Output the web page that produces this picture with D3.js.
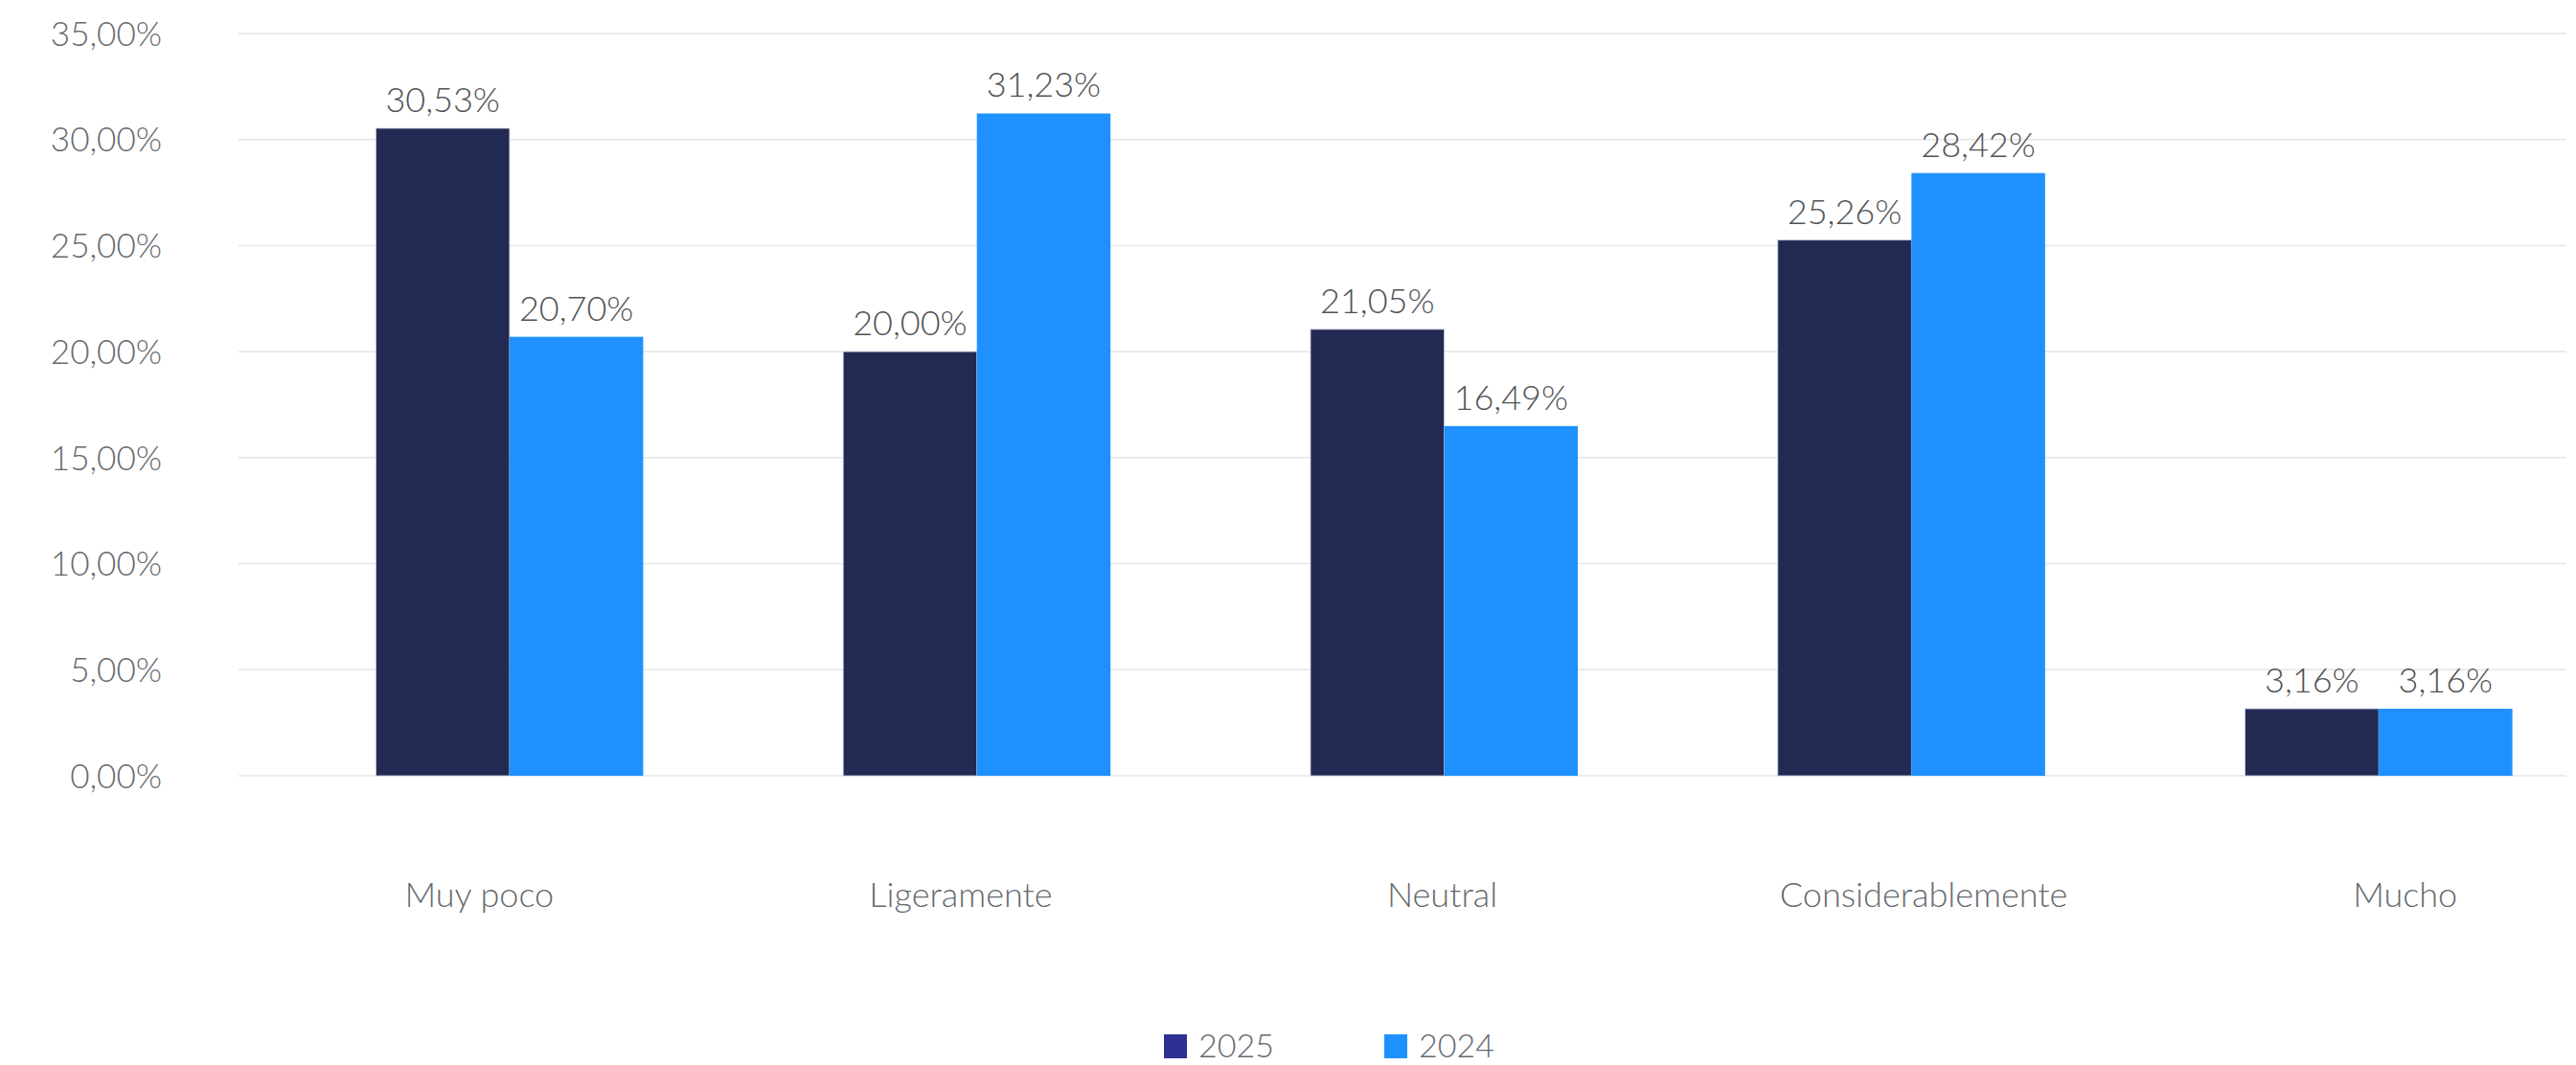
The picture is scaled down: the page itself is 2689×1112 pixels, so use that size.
<!DOCTYPE html>
<html>
<head>
<meta charset="utf-8">
<script src="https://cdn.jsdelivr.net/npm/d3@7"></script>
<style>
  html, body { margin: 0; padding: 0; background: #ffffff; }
  svg { display: block; }
  text { font-family: Lato, "Open Sans", sans-serif; font-weight: 300; }
</style>
</head>
<body>
<svg id="chart" width="2689" height="1112"></svg>
<script>
// Survey answers and share of respondents per year (percent)
const categories = ["Muy poco", "Ligeramente", "Neutral", "Considerablemente", "Mucho"];
const seriesNames = ["2025", "2024"];
const values2025 = [30.53, 20.00, 21.05, 25.26, 3.16];
const values2024 = [20.70, 31.23, 16.49, 28.42, 3.16];
const yTicks = [0, 5, 10, 15, 20, 25, 30, 35];

const barColors = { "2025": "#222a54", "2024": "#1f91ff" };
const legendColors = { "2025": "#2e3192", "2024": "#1f91ff" };

const svg = d3.select("#chart");
const plotLeft = 249, plotRight = 2679, plotTop = 35, plotBottom = 810;

const fmt = v => d3.format(".2f")(v).replace(".", ",") + "%";

const y = d3.scaleLinear().domain([0, 35]).range([plotBottom, plotTop]);

// bar groups
const x0 = d3.scaleBand().domain(categories).range([288, 2727])
  .paddingInner(0.428).paddingOuter(0.214);
const x1 = d3.scaleBand().domain(seriesNames).range([0, x0.bandwidth()]).padding(0);

// category label positions
const xLabel = d3.scaleBand().domain(categories).range([249, 2762]);

// gridlines
svg.append("g").selectAll("line").data(yTicks).join("line")
  .attr("x1", plotLeft).attr("x2", plotRight)
  .attr("y1", d => y(d)).attr("y2", d => y(d))
  .attr("stroke", "#e6e6e6").attr("stroke-width", 1.5);

// y axis labels
const yAxis = d3.axisLeft(y).tickValues(yTicks).tickSize(0).tickPadding(0)
  .tickFormat(fmt);
const gy = svg.append("g").attr("transform", "translate(169,0)").call(yAxis);
gy.select(".domain").remove();
gy.selectAll("text")
  .attr("font-family", "Lato, sans-serif")
  .attr("font-size", 35).attr("fill", "#666a70").attr("dy", "0.35em");

// x axis labels
const xAxis = d3.axisBottom(xLabel).tickSize(0).tickPadding(0);
const gx = svg.append("g").attr("transform", "translate(0,934)").call(xAxis);
gx.select(".domain").remove();
gx.selectAll("text")
  .attr("font-family", "Lato, sans-serif")
  .attr("font-size", 36).attr("fill", "#666a70").attr("dy", "0.35em");

// data rows
const rows = categories.map((c, i) => ({
  cat: c,
  vals: [{ key: "2025", v: values2025[i] }, { key: "2024", v: values2024[i] }]
}));

const groups = svg.append("g").selectAll("g").data(rows).join("g")
  .attr("transform", d => `translate(${x0(d.cat)},0)`);

groups.selectAll("rect").data(d => d.vals).join("rect")
  .attr("x", d => x1(d.key))
  .attr("y", d => y(d.v))
  .attr("width", x1.bandwidth())
  .attr("height", d => y(0) - y(d.v))
  .attr("fill", d => barColors[d.key])
  .attr("stroke", d => d.key === "2025" ? "#c9cddc" : "none")
  .attr("stroke-width", 0.8);

groups.selectAll("text").data(d => d.vals).join("text")
  .attr("x", d => x1(d.key) + x1.bandwidth() / 2)
  .attr("y", d => y(d.v) - 17)
  .attr("text-anchor", "middle")
  .attr("font-size", 36)
  .attr("fill", "#505356")
  .text(d => fmt(d.v));

// legend
const legendX = [1215, 1445];
const lg = svg.append("g").selectAll("g").data(seriesNames).join("g")
  .attr("transform", (d, i) => `translate(${legendX[i]},1080)`);
lg.append("rect").attr("width", 24).attr("height", 25)
  .attr("fill", d => legendColors[d]);
lg.append("text").attr("x", 36).attr("y", 24)
  .attr("font-size", 34).attr("fill", "#666a70")
  .text(d => d);
</script>
</body>
</html>
